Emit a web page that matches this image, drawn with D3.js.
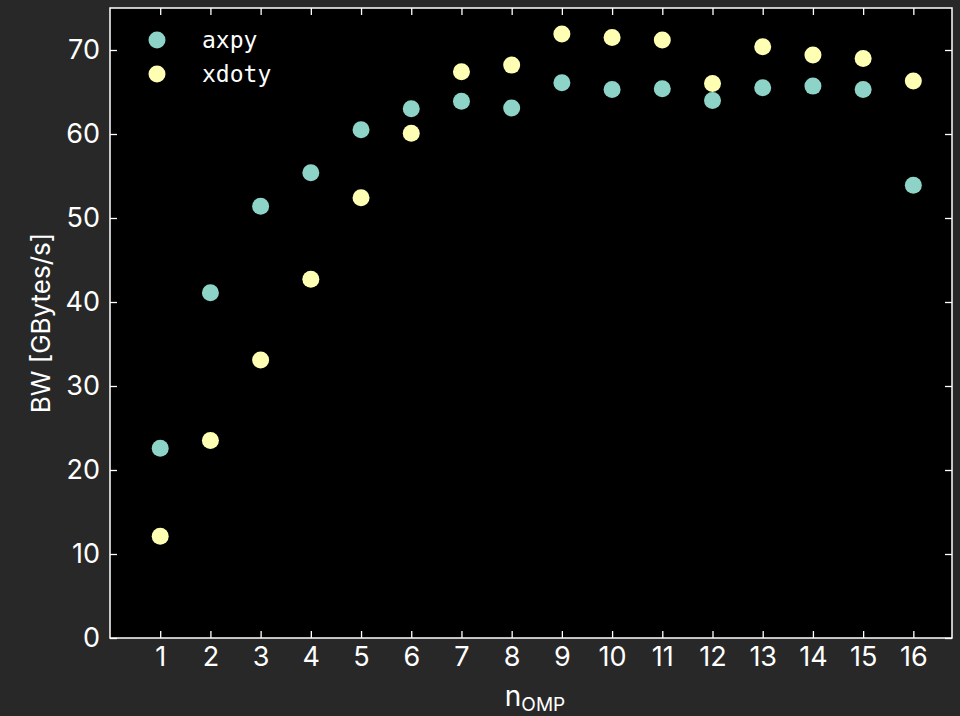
<!DOCTYPE html>
<html>
<head>
<meta charset="utf-8">
<script src="https://cdn.jsdelivr.net/npm/d3@7"></script>
<style>
  html, body { margin:0; padding:0; background:#282828; }
  svg { display:block; }
  .tick text { font-family: Inter, "Noto Sans", sans-serif; }
</style>
</head>
<body>
<svg id="chart" width="960" height="716"></svg>
<script>
// dados
var nThreads = [1,2,3,4,5,6,7,8,9,10,11,12,13,14,15,16];
var axpy  = [22.6,41.1,51.4,55.4,60.5,63.0,63.9,63.1,66.1,65.3,65.4,64.0,65.5,65.7,65.3,53.9];
var xdoty = [12.1,23.5,33.1,42.7,52.4,60.1,67.4,68.2,71.9,71.5,71.2,66.0,70.4,69.4,69.0,66.3];
var yTicks = [0,10,20,30,40,50,60,70];
var series = [
  {nome:"axpy",  valores:axpy,  cor:"#8dd3c7"},
  {nome:"xdoty", valores:xdoty, cor:"#ffffb3"}
];

var margin = {top: 8, right: 8, bottom: 78, left: 110};
var svg = d3.select("#chart");
var width = 960 - margin.left - margin.right;
var height = 716 - margin.top - margin.bottom;

var x = d3.scaleLinear().domain([0, 16.77]).range([0, width]);
var y = d3.scaleLinear().domain([0, 75]).range([height, 0]);

var g = svg.append("g")
    .attr("transform", "translate(" + margin.left + "," + margin.top + ")");

// fundo preto da area
g.append("rect")
    .attr("width", width).attr("height", height)
    .attr("fill", "#000");

// pontos
series.forEach(function(s){
  g.selectAll(null)
    .data(s.valores)
    .enter().append("circle")
    .attr("cx", function(d,i){ return x(nThreads[i]); })
    .attr("cy", function(d){ return y(d); })
    .attr("r", 8.5)
    .attr("fill", s.cor);
});

function estilo(ax){
  ax.select(".domain").remove();
  ax.selectAll(".tick line").attr("stroke", "#fff").attr("stroke-width", 1.3);
  ax.selectAll(".tick text").attr("fill", "#fff").style("font-size", "27px");
}

// eixos (ticks pra dentro)
g.append("g")
  .attr("transform", "translate(0," + height + ")")
  .call(d3.axisBottom(x).tickValues(nThreads).tickSizeInner(-7).tickPadding(9).tickFormat(d3.format("d")))
  .call(estilo);
g.append("g")
  .call(d3.axisTop(x).tickValues(nThreads).tickSizeInner(-7).tickFormat(""))
  .call(estilo);
g.append("g")
  .call(d3.axisLeft(y).tickValues(yTicks).tickSizeInner(-7).tickPadding(10))
  .call(estilo);
g.append("g")
  .attr("transform", "translate(" + width + ",0)")
  .call(d3.axisRight(y).tickValues(yTicks).tickSizeInner(-7).tickFormat(""))
  .call(estilo);

// borda
g.append("rect")
    .attr("width", width).attr("height", height)
    .attr("fill", "none").attr("stroke", "#fff").attr("stroke-width", 1.5);

// rotulos
var lx = svg.append("text")
    .attr("x", 535)
    .attr("y", 706)
    .attr("text-anchor", "middle")
    .attr("fill", "#fff")
    .style("font-family", "Inter, 'Noto Sans', sans-serif")
    .style("font-size", "28px");
lx.append("tspan").text("n");
lx.append("tspan").attr("dy", 5).style("font-size", "19px").text("OMP");

svg.append("text")
    .attr("transform", "translate(50," + (margin.top + height/2) + ") rotate(-90)")
    .attr("text-anchor", "middle")
    .attr("fill", "#fff")
    .style("font-family", "Inter, 'Noto Sans', sans-serif")
    .style("font-size", "26px")
    .text("BW [GBytes/s]");

// legenda
var leg = g.append("g");
series.forEach(function(s, i){
  leg.append("circle")
    .attr("cx", 47).attr("cy", 32 + i*34)
    .attr("r", 8.5).attr("fill", s.cor);
  leg.append("text")
    .attr("x", 92).attr("y", 32 + i*34)
    .attr("dy", "0.35em")
    .attr("fill", "#fff")
    .style("font-family", "'DejaVu Sans Mono', monospace")
    .style("font-size", "23px")
    .text(s.nome);
});
</script>
</body>
</html>
